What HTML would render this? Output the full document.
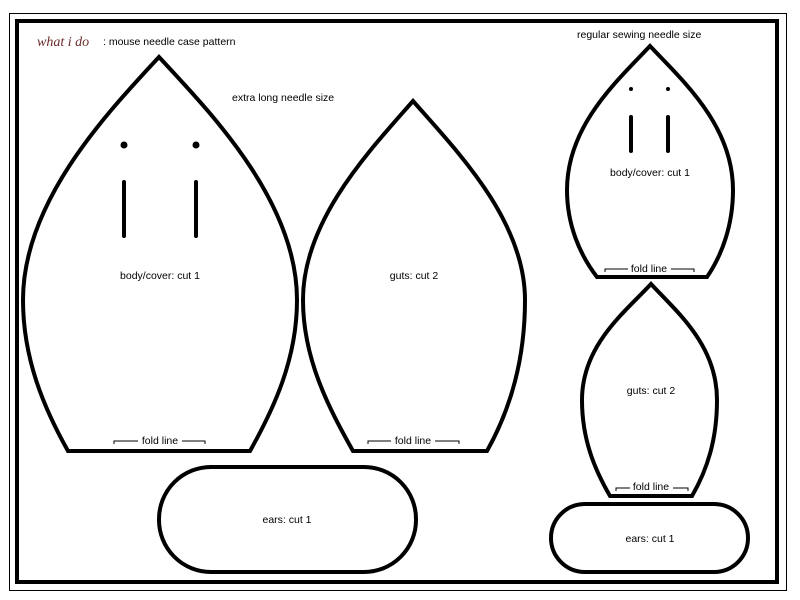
<!DOCTYPE html>
<html><head><style>
html,body{margin:0;padding:0;background:#fff}
svg{display:block}
text{font-family:"Liberation Sans",sans-serif;font-size:10.5px;fill:#000}
</style></head><body>
<svg width="800" height="600" viewBox="0 0 800 600">
<rect x="9.5" y="13.5" width="777" height="577" fill="none" stroke="#000" stroke-width="1"/>
<rect x="17" y="21" width="760" height="561" fill="none" stroke="#000" stroke-width="4"/>
<text x="37" y="46" style="font-family:'Liberation Serif',serif;font-style:italic;font-size:14px;fill:#6a2a2a">what i do</text>
<text x="103" y="45" font-size="11">: mouse needle case pattern</text>
<text x="232" y="101">extra long needle size</text>
<text x="577" y="38">regular sewing needle size</text>
<g fill="none" stroke="#000" stroke-width="4" stroke-linejoin="miter">
<path d="M159 57 C110 110,23 200,23 300 C23 360,45 410,68 451 H250 C273 410,297 360,297 300 C297 200,208 110,159 57 Z"/>
<path d="M413 101 C370 150,303 220,303 300 C303 360,330 410,353 451 H487 C510 410,525 360,525 300 C525 220,456 150,413 101 Z"/>
<path d="M650 46 C618 80,567 125,567 190 C567 225,580 255,597 277 H707 C722 255,733 225,733 190 C733 125,682 80,650 46 Z"/>
<path d="M651 284 C625 312,582 345,582 400 C582 440,595 470,610 496 H692 C707 470,717 440,717 400 C717 345,677 312,651 284 Z"/>
<rect x="159" y="467" width="257" height="105" rx="52" ry="52"/>
<rect x="551" y="504" width="197" height="68" rx="34" ry="34"/>
</g>
<g stroke="#000" stroke-width="4" stroke-linecap="round">
<line x1="124" y1="182" x2="124" y2="236"/><line x1="196" y1="182" x2="196" y2="236"/>
<line x1="631" y1="117" x2="631" y2="151"/><line x1="668" y1="117" x2="668" y2="151"/>
</g>
<g fill="#000"><circle cx="124" cy="145" r="3.5"/><circle cx="196" cy="145" r="3.5"/>
<circle cx="631" cy="89" r="2"/><circle cx="668" cy="89" r="2"/></g>
<text x="160" y="279" text-anchor="middle">body/cover: cut 1</text>
<text x="414" y="279" text-anchor="middle">guts: cut 2</text>
<text x="650" y="176" text-anchor="middle">body/cover: cut 1</text>
<text x="651" y="394" text-anchor="middle">guts: cut 2</text>
<text x="287" y="523" text-anchor="middle">ears: cut 1</text>
<text x="650" y="542" text-anchor="middle">ears: cut 1</text>
<g stroke="#000" stroke-width="1" fill="none">
<path d="M114 444 V441 H138 M182 441 H205 V444"/>
<path d="M368 444 V441 H391 M435 441 H459 V444"/>
<path d="M605 272 V269 H628 M671 269 H694 V272"/>
<path d="M616 491 V488 H630 M673 488 H688 V491"/>
</g>
<text x="160" y="444" text-anchor="middle" font-size="11">fold line</text>
<text x="413" y="444" text-anchor="middle" font-size="11">fold line</text>
<text x="649" y="272" text-anchor="middle" font-size="11">fold line</text>
<text x="651" y="490" text-anchor="middle" font-size="11">fold line</text>
</svg>
</body></html>
